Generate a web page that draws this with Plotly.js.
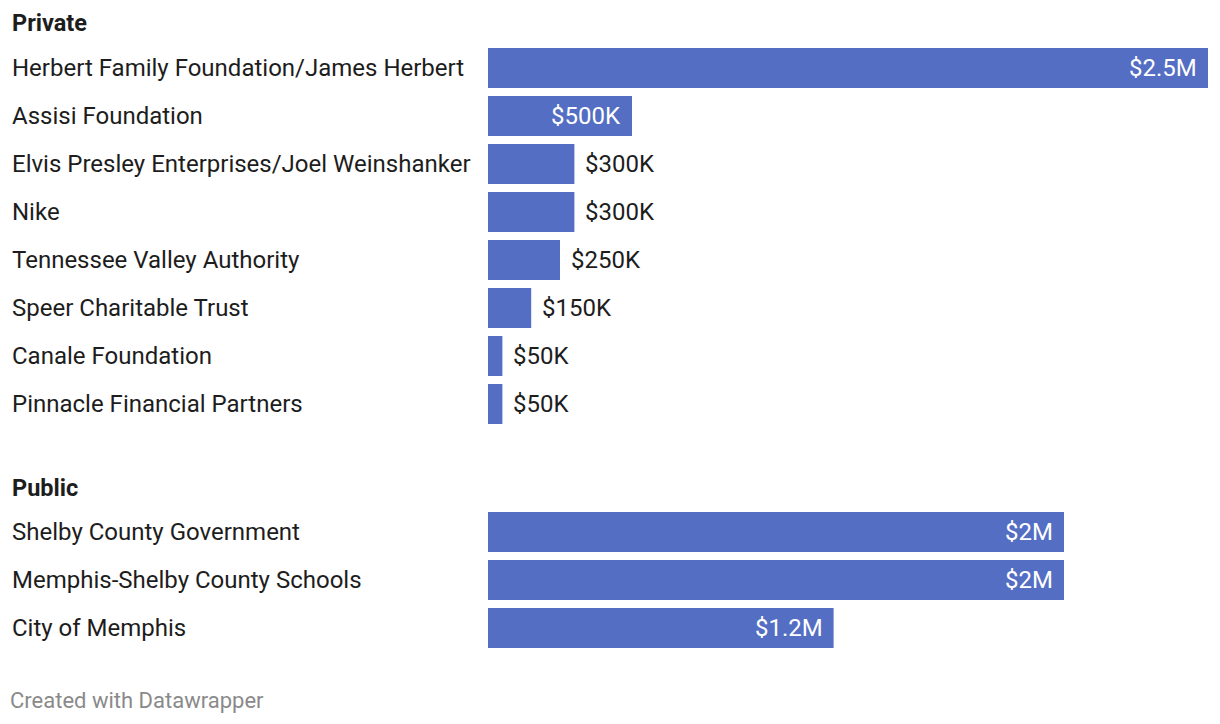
<!DOCTYPE html>
<html>
<head>
<meta charset="utf-8">
<script src="https://cdn.plot.ly/plotly-3.0.1.min.js"></script>
<style>html,body{margin:0;padding:0;background:#fff;}#chart{width:1220px;height:724px;}</style>
</head>
<body>
<div id="chart"></div>
<script>
const privateNames = ["Herbert Family Foundation/James Herbert","Assisi Foundation","Elvis Presley Enterprises/Joel Weinshanker","Nike","Tennessee Valley Authority","Speer Charitable Trust","Canale Foundation","Pinnacle Financial Partners"];
const privateValues = [2500000,500000,300000,300000,250000,150000,50000,50000];
const privateLabels = ["$2.5M","$500K","$300K","$300K","$250K","$150K","$50K","$50K"];
const publicNames = ["Shelby County Government","Memphis-Shelby County Schools","City of Memphis"];
const publicValues = [2000000,2000000,1200000];
const publicLabels = ["$2M","$2M","$1.2M"];
const groupTitles = ["Private","Public"];
const footer = "Created with Datawrapper";

const W = 1220, H = 724;
const barColor = "#536ec3";
const textColor = "#1d1d1d";
const font = "Roboto, 'Open Sans', sans-serif";
const xRange = [0, 2500000];
const px = p => p / W;
const py = p => 1 - p / H;
const xDomain = [px(488), px(1208)];
const insideThreshold = 500000;

const groups = [
  {names: privateNames, values: privateValues, labels: privateLabels, top: 44, xa: "x", ya: "y", title: groupTitles[0], titleY: 23},
  {names: publicNames, values: publicValues, labels: publicLabels, top: 508, xa: "x2", ya: "y2", title: groupTitles[1], titleY: 488}
];
const pitch = 48;

const traces = [];
const annotations = [];
const layout = {
  width: W, height: H,
  margin: {l: 0, r: 0, t: 0, b: 0},
  paper_bgcolor: "#fff", plot_bgcolor: "#fff",
  showlegend: false,
  bargap: 1 - 40/48,
  font: {family: font, color: textColor},
  annotations: annotations
};

groups.forEach((g, gi) => {
  const n = g.names.length;
  const idx = g.names.map((_, i) => i);
  traces.push({
    type: "bar", orientation: "h",
    x: g.values, y: idx,
    xaxis: g.xa, yaxis: g.ya,
    marker: {color: barColor},
    hoverinfo: "skip"
  });
  const xKey = gi === 0 ? "xaxis" : "xaxis2";
  const yKey = gi === 0 ? "yaxis" : "yaxis2";
  const bottom = g.top + n * pitch;
  layout[xKey] = {domain: xDomain, range: xRange, visible: false, fixedrange: true, anchor: g.ya};
  layout[yKey] = {domain: [py(bottom), py(g.top)], range: [n - 0.5, -0.5], visible: false, fixedrange: true, anchor: g.xa};
  annotations.push({
    xref: "paper", yref: "paper", x: px(10), y: py(g.titleY),
    xanchor: "left", yanchor: "middle", showarrow: false,
    text: "<b>" + g.title + "</b>", font: {size: 23.5, color: textColor, family: font}
  });
  g.names.forEach((name, i) => {
    annotations.push({
      xref: "paper", yref: g.ya, x: px(10), y: i,
      xanchor: "left", yanchor: "middle", showarrow: false,
      text: name, font: {size: 24, color: textColor, family: font}
    });
    const inside = g.values[i] >= insideThreshold;
    annotations.push({
      xref: g.xa, yref: g.ya, x: g.values[i], y: i,
      xanchor: inside ? "right" : "left", yanchor: "middle",
      xshift: inside ? -9 : 9, showarrow: false,
      text: g.labels[i], font: {size: 24, color: inside ? "#ffffff" : textColor, family: font}
    });
  });
});

annotations.push({
  xref: "paper", yref: "paper", x: px(8), y: py(700),
  xanchor: "left", yanchor: "middle", showarrow: false,
  text: footer, font: {size: 22, color: "#8a8a8a", family: font}
});

Plotly.newPlot("chart", traces, layout, {displayModeBar: false, staticPlot: true});
</script>
</body>
</html>
